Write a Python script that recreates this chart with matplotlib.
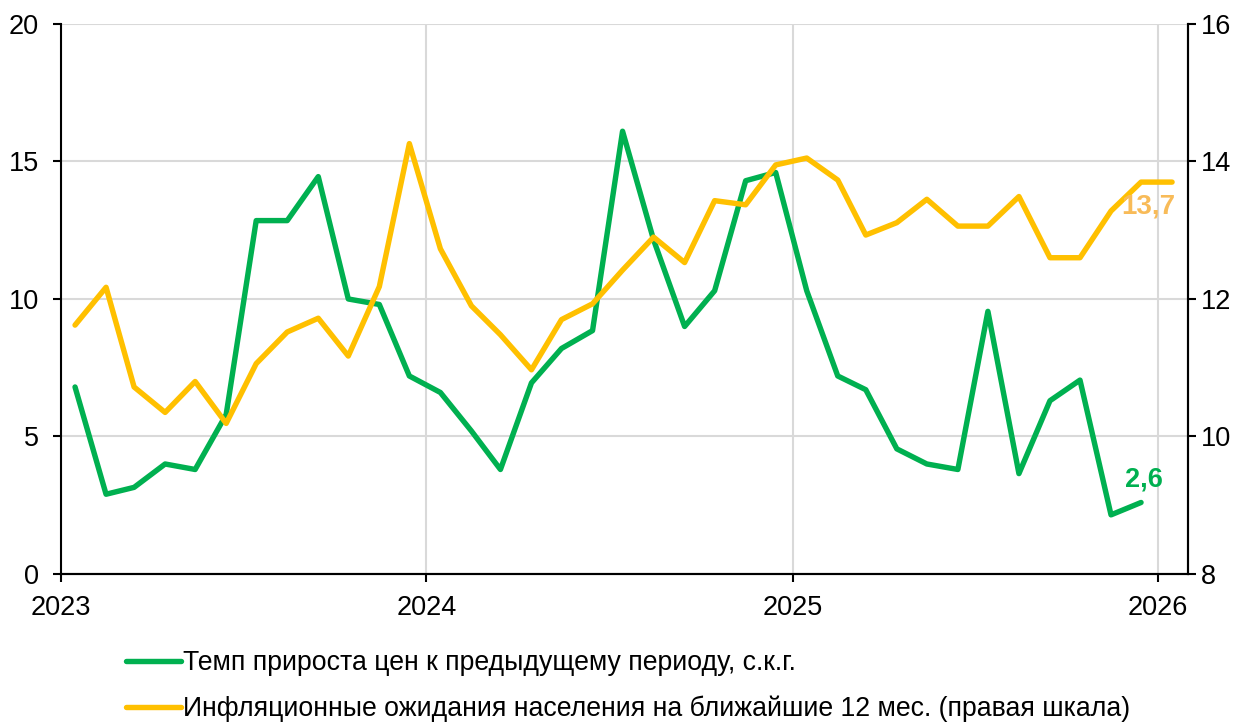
import pandas as pd
import matplotlib
matplotlib.use("Agg")
from matplotlib import pyplot as plt

# monthly data, Jan 2023 ..
price_growth = [6.8, 2.9, 3.15, 4.0, 3.8, 5.8, 12.85, 12.85, 14.45, 10.0, 9.8, 7.2,
                6.6, 5.2, 3.8, 6.95, 8.2, 8.85, 16.1, 12.15, 9.0, 10.3, 14.3, 14.6,
                10.3, 7.2, 6.7, 4.55, 4.0, 3.8, 9.55, 3.65, 6.3, 7.05, 2.15, 2.6]
expectations = [11.62, 12.17, 10.72, 10.35, 10.8, 10.19, 11.06, 11.52, 11.72, 11.17, 12.18, 14.26,
                12.73, 11.9, 11.48, 10.97, 11.7, 11.93, 12.42, 12.9, 12.53, 13.43, 13.37, 13.95,
                14.05, 13.73, 12.93, 13.11, 13.45, 13.06, 13.06, 13.49, 12.6, 12.6, 13.28, 13.7, 13.7]
year_ticks = ["2023", "2024", "2025", "2026"]

GREEN = "#00B050"
ORANGE = "#FFC000"


def main():
    plt.rcParams['font.family'] = ['Liberation Sans', 'DejaVu Sans']
    fs = 19.5

    dates_g = pd.date_range("2023-01-01", periods=len(price_growth), freq="MS") + pd.Timedelta(days=14)
    dates_o = pd.date_range("2023-01-01", periods=len(expectations), freq="MS") + pd.Timedelta(days=14)

    fig = plt.figure(figsize=(12.53, 7.22), dpi=100)
    ax = fig.add_axes([0.0487, 0.205, 0.8995, 0.7618])
    ax2 = ax.twinx()

    l1, = ax.plot(dates_g, price_growth, color=GREEN, lw=3.9, solid_joinstyle='round',
                  solid_capstyle='round', zorder=3)
    l2, = ax2.plot(dates_o, expectations, color=ORANGE, lw=3.9, solid_joinstyle='round',
                   solid_capstyle='round', zorder=3)

    ax.set_ylim(0, 20)
    ax2.set_ylim(8, 16)
    ax.set_yticks([0, 5, 10, 15, 20])
    ax2.set_yticks([8, 10, 12, 14, 16])
    ax.set_xlim(pd.Timestamp("2023-01-01"), pd.Timestamp("2026-01-31"))
    ticks = [pd.Timestamp(y + "-01-01") for y in year_ticks]
    ax.set_xticks(ticks)
    ax.set_xticklabels(year_ticks)

    ax.grid(True, color="#D9D9D9", lw=1.5, zorder=0)
    ax.set_axisbelow(True)
    for a in (ax, ax2):
        a.spines['top'].set_visible(False)
        for s in a.spines.values():
            s.set_linewidth(1.5)
            s.set_color("black")
        a.tick_params(labelsize=fs, length=6, width=1.5, direction='out')
    ax.tick_params(axis='x', pad=9)
    ax.tick_params(axis='y', pad=10)
    ax2.spines['left'].set_visible(False)

    ax2.text(dates_o[-1] + pd.Timedelta(days=3), expectations[-1] - 0.17, "13,7", color="#F8BB58",
             fontsize=fs + 0.5, fontweight='bold', ha='right', va='top')
    ax.text(dates_g[-1] + pd.Timedelta(days=3), price_growth[-1] + 0.35, "2,6", color=GREEN,
            fontsize=fs, fontweight='bold', ha='center', va='bottom')

    fig.legend([l1, l2],
               ["Темп прироста цен к предыдущему периоду, с.к.г.",
                "Инфляционные ожидания населения на ближайшие 12 мес. (правая шкала)"],
               loc='upper left', bbox_to_anchor=(0.092, 0.114), frameon=False, fontsize=19.2,
               handlelength=2.05, handletextpad=0.1, labelspacing=0.72, borderaxespad=0)

    fig.savefig("out.png", dpi=100)


if __name__ == '__main__':
    main()
